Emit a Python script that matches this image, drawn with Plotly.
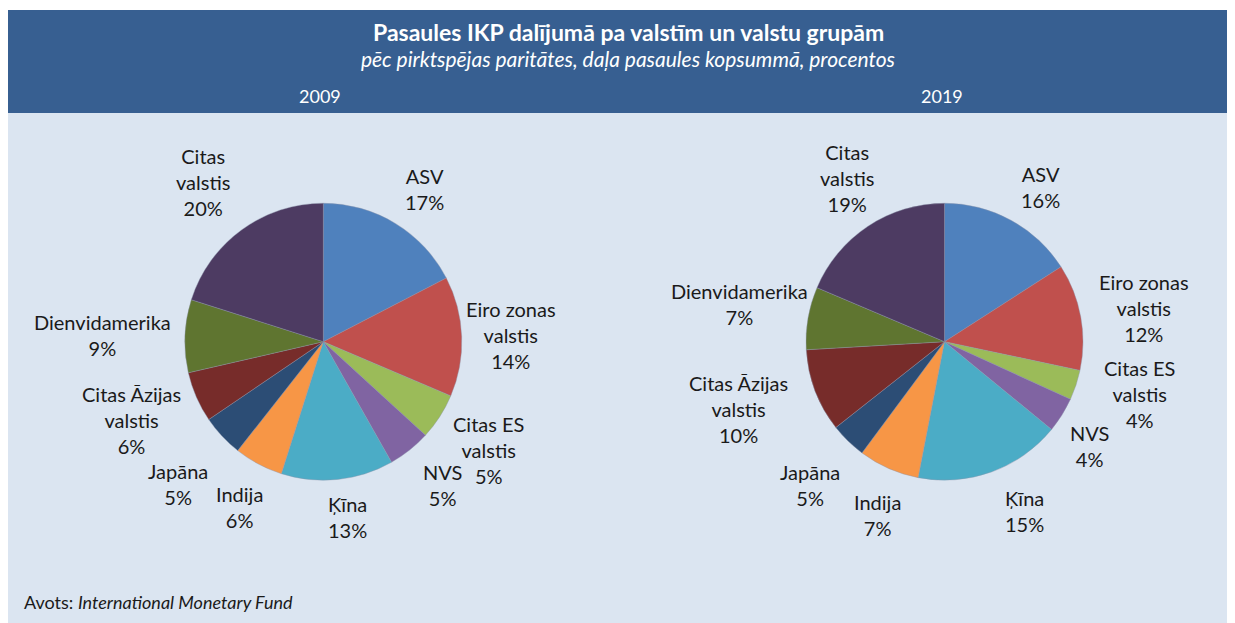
import math

import plotly.graph_objects as go

PAGE_OFFSET = 8  # the page body margin around the figure
W, H = 1235 - PAGE_OFFSET, 623 - PAGE_OFFSET

NAMES = [
    "ASV",
    "Eiro zonas<br>valstis",
    "Citas ES<br>valstis",
    "NVS",
    "Ķīna",
    "Indija",
    "Japāna",
    "Citas Āzijas<br>valstis",
    "Dienvidamerika",
    "Citas<br>valstis",
]

COLORS = [
    "#4f81bd",
    "#c0504d",
    "#9bbb59",
    "#8064a2",
    "#4bacc6",
    "#f79646",
    "#2c4d75",
    "#772c2a",
    "#5f7530",
    "#4d3b62",
]

# slice sizes as drawn, % of world total
SHARES_2009 = [17.4, 14.0, 5.4, 5.0, 13.1, 5.7, 4.9, 5.9, 8.5, 20.1]
SHARES_2019 = [15.9, 12.4, 3.5, 4.1, 17.1, 7.1, 4.2, 9.7, 7.3, 18.6]

# percentages as printed on the labels
PCT_2009 = [17, 14, 5, 5, 13, 6, 5, 6, 9, 20]
PCT_2019 = [16, 12, 4, 4, 15, 7, 5, 10, 7, 19]

YEARS = ["2009", "2019"]

TITLE = "Pasaules IKP dalījumā pa valstīm un valstu grupām"
SUBTITLE = "pēc pirktspējas paritātes, daļa pasaules kopsummā, procentos"
SOURCE = "Avots: <i>International Monetary Fund</i>"

FONT = "Lato, 'Open Sans', sans-serif"
TEXT_COLOR = "#1a1a1a"
HEADER_BG = "#375f91"
PANEL_BG = "#dbe5f1"

R = 138.5
CENTERS = [(323.3, 341.7), (944.5, 341.7)]  # page pixels
CHAR_W = 9.2
LINE_H = 26
GAP = 12
# small hand tweaks of the outside labels (px), like Excel's best-fit placement
NUDGE = [
    [(9, -1), (-9, 1), (2, 3), (12, 8), (6, 0), (0, 6), (-8, 14), (1, -6), (-6, 2), (-3, 1)],
    [(10, 3), (5, 2), (15, -7), (4, 16), (20, 2), (5, 10), (-4, 9), (-10, -7), (8, -1), (11, 1)],
]


def px_x(x):
    return (x - PAGE_OFFSET) / W


def px_y(y):
    return 1 - (y - PAGE_OFFSET) / H


def label_annotations(shares, pct, cx, cy, nudge):
    total = sum(shares)
    acc = 0.0
    anns = []
    for name, s, p, (nx, ny) in zip(NAMES, shares, pct, nudge):
        mid = (acc + s / 2) / total * 2 * math.pi
        acc += s
        lines = name.split("<br>") + [f"{p}%"]
        half_w = max(len(l) for l in lines) * CHAR_W / 2
        half_h = len(lines) * LINE_H / 2
        sx, sy = math.sin(mid), -math.cos(mid)
        tx = half_w / abs(sx) if abs(sx) > 1e-6 else 1e9
        ty = half_h / abs(sy) if abs(sy) > 1e-6 else 1e9
        d = R + GAP + min(tx, ty)
        anns.append(
            dict(
                x=px_x(cx + d * sx + nx),
                y=px_y(cy + d * sy + ny),
                xref="paper",
                yref="paper",
                text="<br>".join(lines),
                showarrow=False,
                xanchor="center",
                yanchor="middle",
                align="center",
                font=dict(family=FONT, size=20, color=TEXT_COLOR),
            )
        )
    return anns


fig = go.Figure()

annotations = []
for shares, pct, (cx, cy), year, nudge in zip(
    [SHARES_2009, SHARES_2019], [PCT_2009, PCT_2019], CENTERS, YEARS, NUDGE
):
    fig.add_trace(
        go.Pie(
            labels=[n.replace("<br>", " ") for n in NAMES],
            values=shares,
            sort=False,
            direction="clockwise",
            rotation=0,
            textinfo="none",
            marker=dict(colors=COLORS, line=dict(width=0.4, color="#8a93a8")),
            showlegend=False,
            domain=dict(
                x=[px_x(cx - R), px_x(cx + R)],
                y=[px_y(cy + R), px_y(cy - R)],
            ),
            name=year,
        )
    )
    annotations += label_annotations(shares, pct, cx, cy, nudge)
    annotations.append(
        dict(
            x=px_x(cx - 3),
            y=px_y(96),
            xref="paper",
            yref="paper",
            text=year,
            showarrow=False,
            xanchor="center",
            yanchor="middle",
            font=dict(family=FONT, size=18, color="white"),
        )
    )

annotations += [
    dict(
        x=px_x(628),
        y=px_y(32),
        xref="paper",
        yref="paper",
        text=f"<b>{TITLE}</b>",
        showarrow=False,
        xanchor="center",
        yanchor="middle",
        font=dict(family=FONT, size=23, color="white"),
    ),
    dict(
        x=px_x(628),
        y=px_y(58),
        xref="paper",
        yref="paper",
        text=f"<i>{SUBTITLE}</i>",
        showarrow=False,
        xanchor="center",
        yanchor="middle",
        font=dict(family=FONT, size=21, color="white"),
    ),
    dict(
        x=px_x(22),
        y=px_y(602),
        xref="paper",
        yref="paper",
        text=SOURCE,
        showarrow=False,
        xanchor="left",
        yanchor="middle",
        font=dict(family=FONT, size=18, color=TEXT_COLOR),
    ),
]

fig.update_layout(
    width=W,
    height=H,
    margin=dict(l=0, r=0, t=0, b=0),
    paper_bgcolor=PANEL_BG,
    plot_bgcolor=PANEL_BG,
    annotations=annotations,
    shapes=[
        dict(
            type="rect",
            xref="paper",
            yref="paper",
            x0=0,
            x1=1,
            y0=px_y(10),
            y1=1,
            fillcolor="white",
            line=dict(width=0),
            layer="below",
        ),
        dict(
            type="rect",
            xref="paper",
            yref="paper",
            x0=0,
            x1=1,
            y0=px_y(113),
            y1=px_y(10),
            fillcolor=HEADER_BG,
            line=dict(width=0),
            layer="below",
        ),
    ],
)

fig.write_html("out.html")
